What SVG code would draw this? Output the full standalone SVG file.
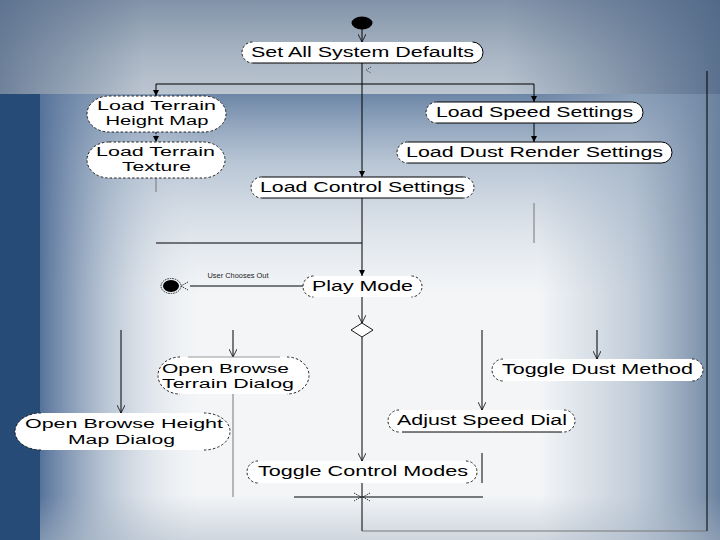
<svg xmlns="http://www.w3.org/2000/svg" width="720" height="540" viewBox="0 0 720 540">
<style>
.t{font-family:"Liberation Sans",Arial,sans-serif;font-size:14px;fill:#000;text-anchor:middle}
.t2{font-family:"Liberation Sans",Arial,sans-serif;font-size:12.5px;fill:#000;text-anchor:middle}
.ts{font-family:"Liberation Sans",Arial,sans-serif;font-size:7px;fill:#222;text-anchor:middle}
.bg{fill:#fff}
.dash{fill:none;stroke:#111;stroke-width:0.9;stroke-dasharray:2.5 2}
.solid{fill:none;stroke:#000;stroke-width:1}
.e{fill:none;stroke:#000;stroke-width:1}
.eg{fill:none;stroke:#777;stroke-width:1}
.fa{marker-end:url(#filled)}
.oa{marker-end:url(#open)}
</style>
<defs>
<linearGradient id="topV" x1="0" y1="0" x2="0" y2="1">
<stop offset="0" stop-color="#8293a9"/>
<stop offset="0.6" stop-color="#aab6c4"/>
<stop offset="1" stop-color="#bcc6d1"/>
</linearGradient>
<linearGradient id="topH" x1="0" y1="0" x2="1" y2="0">
<stop offset="0" stop-color="#4f6685" stop-opacity="0.7"/>
<stop offset="0.2" stop-color="#4f6685" stop-opacity="0"/>
<stop offset="0.7" stop-color="#4f6685" stop-opacity="0"/>
<stop offset="1" stop-color="#4a6384" stop-opacity="0.85"/>
</linearGradient>
<linearGradient id="blueTop" x1="0" y1="0" x2="0" y2="1">
<stop offset="0" stop-color="#5e7a9e" stop-opacity="0.9"/>
<stop offset="0.35" stop-color="#7f97b3" stop-opacity="0.5"/>
<stop offset="1" stop-color="#b0c0d2" stop-opacity="0"/>
</linearGradient>
<linearGradient id="leftG" x1="0" y1="0" x2="1" y2="0">
<stop offset="0" stop-color="#56729a" stop-opacity="1"/>
<stop offset="0.4" stop-color="#8ea2bb" stop-opacity="0.6"/>
<stop offset="1" stop-color="#dfe5ec" stop-opacity="0"/>
</linearGradient>
<linearGradient id="rightG" x1="0" y1="0" x2="1" y2="0">
<stop offset="0" stop-color="#9fb0c4" stop-opacity="0"/>
<stop offset="0.5" stop-color="#9fb0c4" stop-opacity="0.55"/>
<stop offset="1" stop-color="#6a829f" stop-opacity="1"/>
</linearGradient>
<linearGradient id="botG" x1="0" y1="0" x2="0" y2="1">
<stop offset="0" stop-color="#a9b6c5" stop-opacity="0"/>
<stop offset="1" stop-color="#a9b6c5" stop-opacity="0.5"/>
</linearGradient>
<marker id="filled" viewBox="0 0 8 8" refX="8" refY="4" markerWidth="6" markerHeight="6" orient="auto" markerUnits="userSpaceOnUse">
<path d="M0,0 L8,4 L0,8 z" fill="#000"/>
</marker>
<marker id="open" viewBox="0 0 10 10" refX="10" refY="5" markerWidth="8" markerHeight="8" orient="auto" markerUnits="userSpaceOnUse">
<path d="M0,0 L10,5 L0,10" fill="none" stroke="#000" stroke-width="1"/>
</marker>
</defs>

<g id="background">
<rect x="0" y="0" width="720" height="540" fill="#f3f5f7"/>
<rect x="0" y="94" width="720" height="200" fill="url(#blueTop)"/>
<rect x="40" y="94" width="160" height="446" fill="url(#leftG)"/>
<rect x="540" y="94" width="180" height="446" fill="url(#rightG)"/>
<rect x="0" y="495" width="720" height="45" fill="url(#botG)"/>
<rect x="0" y="94" width="40" height="446" fill="#264b76"/>
<rect x="0" y="0" width="720" height="94" fill="url(#topV)"/>
<rect x="0" y="0" width="720" height="94" fill="url(#topH)"/>
</g>

<g id="connectors">
<line class="e oa" x1="362" y1="29" x2="362" y2="42"/>
<line class="e fa" x1="362" y1="63" x2="362" y2="177"/>
<line class="e" x1="156" y1="84" x2="534" y2="84"/>
<line class="e fa" x1="156" y1="84" x2="156" y2="96"/>
<line class="e fa" x1="534" y1="84" x2="534" y2="102"/>
<line class="e fa" x1="156" y1="132" x2="156" y2="142" stroke-dasharray="2 1.5"/>
<line class="e fa" x1="534" y1="123" x2="534" y2="142"/>
<line class="eg" x1="156" y1="178" x2="156" y2="192"/>
<line class="eg" x1="534" y1="203" x2="534" y2="243"/>
<line class="e" x1="156" y1="243" x2="362" y2="243"/>
<line class="e fa" x1="362" y1="198" x2="362" y2="276"/>
<line class="e" x1="303" y1="286" x2="190" y2="286"/>
<path d="M188,282 L181,286 L188,290" fill="none" stroke="#000" stroke-width="0.8" stroke-dasharray="1.5 1"/>
<line class="e oa" x1="362" y1="297" x2="362" y2="323"/>
<line class="e oa" x1="362" y1="337" x2="362" y2="461"/>
<line class="e" x1="362" y1="483" x2="362" y2="531"/>
<line class="eg" x1="362" y1="531" x2="707" y2="531"/>
<line class="e" x1="707" y1="531" x2="707" y2="71"/>
<line class="e oa" x1="233" y1="330" x2="233" y2="357"/>
<line class="e oa" x1="121" y1="330" x2="121" y2="413"/>
<line class="eg" x1="233" y1="394" x2="233" y2="497"/>
<line class="e oa" x1="597" y1="330" x2="597" y2="359"/>
<line class="e oa" x1="482" y1="330" x2="482" y2="410"/>
<line class="e" x1="482" y1="453" x2="482" y2="483"/>
<line class="e" x1="294" y1="497" x2="483" y2="497"/>
<path d="M354,493 L361,497 L354,501 M370,493 L363,497 L370,501" fill="none" stroke="#000" stroke-width="0.8" stroke-dasharray="1.5 1"/>
<path d="M371,67 L366,70 L371,73" fill="none" stroke="#000" stroke-width="0.8" stroke-dasharray="1 1.5"/>
</g>

<g id="start">
<ellipse cx="362" cy="23" rx="10.5" ry="6.5" fill="#000"/>
</g>

<g id="n-set-defaults">
<rect class="bg" x="242" y="42" width="241" height="21" rx="10.5"/>
<path class="dash" d="M252.5,42 A10.5,10.5 0 0 0 252.5,63"/>
<path class="solid" d="M472.5,42 A10.5,10.5 0 0 1 472.5,63 M252.5,63 H472.5"/>
<text class="t" x="362.5" y="57" textLength="223" lengthAdjust="spacingAndGlyphs">Set All System Defaults</text>
</g>

<g id="n-height-map">
<rect class="bg" x="87" y="96" width="139" height="36" rx="22" ry="18"/>
<rect class="dash" x="87" y="96" width="139" height="36" rx="22" ry="18"/>
<text class="t2" x="156.5" y="109.5" textLength="119" lengthAdjust="spacingAndGlyphs">Load Terrain</text>
<text class="t2" x="157" y="124.5" textLength="103" lengthAdjust="spacingAndGlyphs">Height Map</text>
</g>

<g id="n-texture">
<rect class="bg" x="87" y="142" width="138" height="36" rx="22" ry="18"/>
<rect class="dash" x="87" y="142" width="138" height="36" rx="22" ry="18"/>
<text class="t2" x="155.5" y="155.5" textLength="119" lengthAdjust="spacingAndGlyphs">Load Terrain</text>
<text class="t2" x="156.5" y="170.5" textLength="69" lengthAdjust="spacingAndGlyphs">Texture</text>
</g>

<g id="n-speed">
<rect class="bg" x="426" y="102" width="217" height="21" rx="10.5"/>
<path class="dash" d="M436.5,102 A10.5,10.5 0 0 0 436.5,123"/>
<path class="solid" d="M436.5,102 H632.5 A10.5,10.5 0 0 1 632.5,123 H436.5"/>
<text class="t" x="534.5" y="117" textLength="197" lengthAdjust="spacingAndGlyphs">Load Speed Settings</text>
</g>

<g id="n-dust-render">
<rect class="bg" x="397" y="142" width="275" height="21" rx="10.5"/>
<path class="dash" d="M407.5,142 A10.5,10.5 0 0 0 407.5,163"/>
<path class="solid" d="M407.5,142 H661.5 A10.5,10.5 0 0 1 661.5,163 H407.5"/>
<text class="t" x="534.5" y="157" textLength="257" lengthAdjust="spacingAndGlyphs">Load Dust Render Settings</text>
</g>

<g id="n-control-settings">
<rect class="bg" x="251" y="177" width="223" height="21" rx="10.5"/>
<path class="dash" d="M261.5,177 A10.5,10.5 0 0 0 261.5,198 M463.5,177 A10.5,10.5 0 0 1 463.5,198"/>
<path class="solid" d="M261.5,177 H463.5 M261.5,198 H463.5"/>
<text class="t" x="362.5" y="192" textLength="205" lengthAdjust="spacingAndGlyphs">Load Control Settings</text>
</g>

<g id="n-play-mode">
<rect class="bg" x="303" y="276" width="119" height="21" rx="10.5"/>
<path class="dash" d="M313.5,276 A10.5,10.5 0 0 0 313.5,297 M411.5,276 A10.5,10.5 0 0 1 411.5,297"/>
<text class="t" x="362.5" y="291" textLength="101" lengthAdjust="spacingAndGlyphs" style="font-size:15px">Play Mode</text>
</g>

<g id="end">
<ellipse cx="171" cy="286" rx="10" ry="7.5" fill="none" stroke="#000" stroke-width="0.8" stroke-dasharray="1.5 1"/>
<ellipse cx="171" cy="286" rx="8" ry="6" fill="#000"/>
<text class="ts" x="238" y="278" textLength="61" lengthAdjust="spacingAndGlyphs">User Chooses Out</text>
</g>

<g id="decision">
<polygon points="362,323 373,330 362,337 351,330" fill="#fff" stroke="#000" stroke-width="0.9"/>
</g>

<g id="n-browse-terrain">
<rect class="bg" x="158" y="357" width="151" height="37" rx="22" ry="18.5"/>
<line x1="188" y1="357" x2="280" y2="357" stroke="#999" stroke-width="1"/>
<path class="dash" d="M180,357 A22,18.5 0 0 0 180,394 M287,357 A22,18.5 0 0 1 287,394"/>
<text class="t2" x="225.5" y="372.5" textLength="127" lengthAdjust="spacingAndGlyphs">Open Browse</text>
<text class="t2" x="228" y="388" textLength="132" lengthAdjust="spacingAndGlyphs">Terrain Dialog</text>
</g>

<g id="n-browse-height">
<rect class="bg" x="15" y="413" width="215" height="37" rx="26" ry="18.5"/>
<path class="dash" d="M41,413 A26,18.5 0 0 0 41,450 M204,413 A26,18.5 0 0 1 204,450"/>
<text class="t2" x="124" y="428" textLength="198" lengthAdjust="spacingAndGlyphs">Open Browse Height</text>
<text class="t2" x="121.5" y="443.5" textLength="107" lengthAdjust="spacingAndGlyphs">Map Dialog</text>
</g>

<g id="n-dust-method">
<rect class="bg" x="492" y="359" width="211" height="22" rx="11"/>
<path class="dash" d="M503,359 A11,11 0 0 0 503,381 M692,359 A11,11 0 0 1 692,381"/>
<text class="t" x="597.5" y="374" textLength="191" lengthAdjust="spacingAndGlyphs">Toggle Dust Method</text>
</g>

<g id="n-speed-dial">
<rect class="bg" x="388" y="410" width="187" height="22" rx="11"/>
<path class="dash" d="M399,410 A11,11 0 0 0 399,432 M564,410 A11,11 0 0 1 564,432"/>
<path class="solid" d="M402,432 H562"/>
<text class="t" x="482" y="425" textLength="170" lengthAdjust="spacingAndGlyphs">Adjust Speed Dial</text>
</g>

<g id="n-control-modes">
<rect class="bg" x="247" y="461" width="230" height="22" rx="11"/>
<path class="dash" d="M258,461 A11,11 0 0 0 258,483 M466,461 A11,11 0 0 1 466,483"/>
<text class="t" x="363" y="476" textLength="210" lengthAdjust="spacingAndGlyphs">Toggle Control Modes</text>
</g>
</svg>
